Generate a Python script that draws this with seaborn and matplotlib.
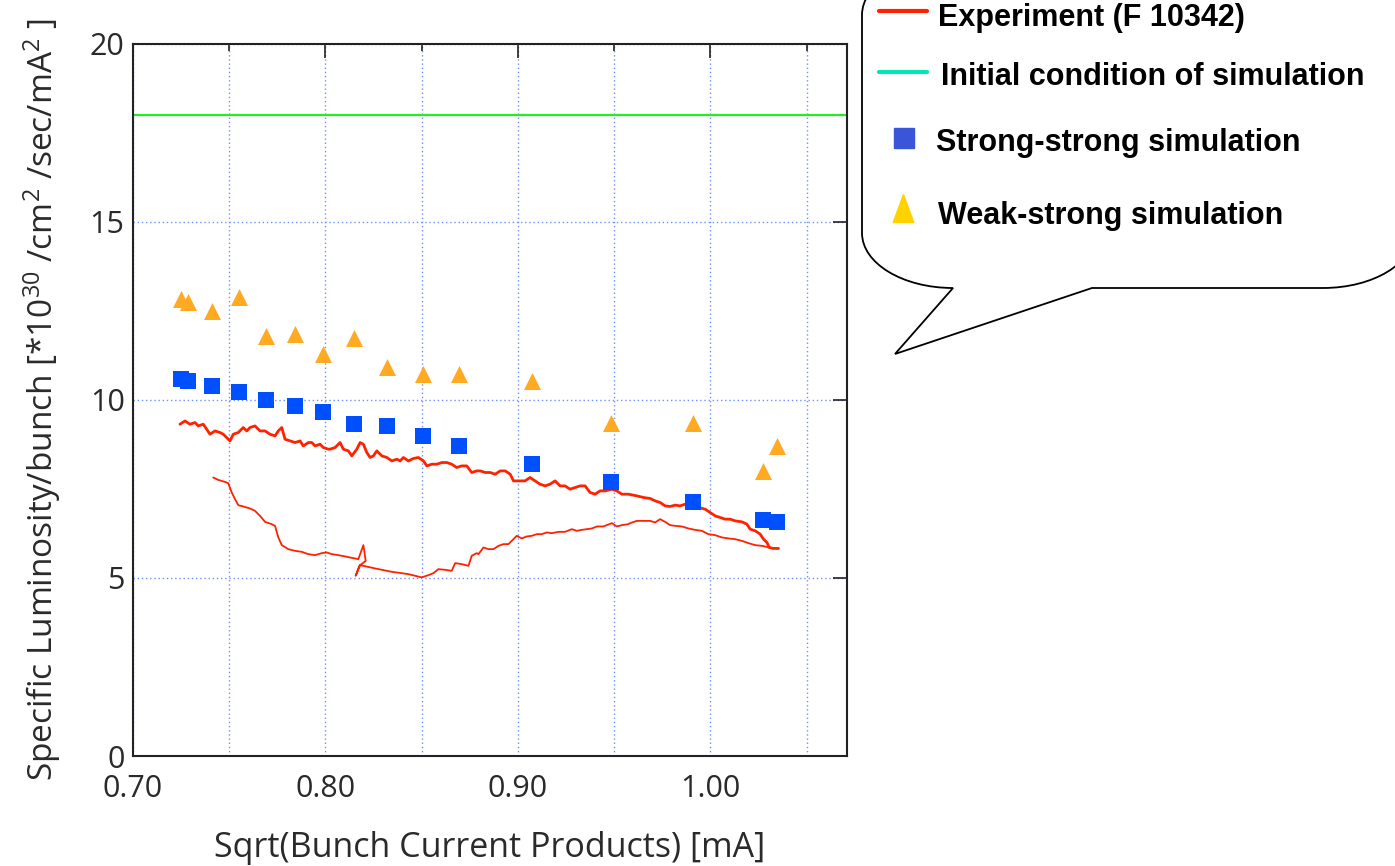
import matplotlib
matplotlib.use("Agg")
import matplotlib.pyplot as plt
from matplotlib.path import Path
from matplotlib.patches import PathPatch
from matplotlib.lines import Line2D
from matplotlib.ticker import MultipleLocator, FixedLocator
import pandas as pd
import seaborn as sns

# ---- data -------------------------------------------------------------
sqrt_current = [0.7248, 0.7287, 0.7409, 0.7549, 0.7691, 0.7840, 0.7989, 0.8150,
                0.8319, 0.8507, 0.8694, 0.9072, 0.9483, 0.9912, 1.0271, 1.0346]
strong_strong = [10.58, 10.53, 10.39, 10.23, 9.98, 9.83, 9.67, 9.31,
                 9.27, 8.97, 8.70, 8.21, 7.70, 7.13, 6.63, 6.58]
weak_strong = [12.84, 12.75, 12.49, 12.89, 11.79, 11.84, 11.28, 11.73,
               10.92, 10.72, 10.72, 10.53, 9.35, 9.35, 7.99, 8.69]
initial_condition = 18.0

# experiment F 10342, upper branch
exp_upper_x = [0.7244, 0.7270, 0.7296, 0.7322, 0.7339, 0.7365, 0.7383, 0.7400, 0.7426, 0.7452,
               0.7469, 0.7504, 0.7521, 0.7547, 0.7573, 0.7591, 0.7608, 0.7634, 0.7660, 0.7686,
               0.7712, 0.7738, 0.7755, 0.7773, 0.7790, 0.7816, 0.7842, 0.7868, 0.7885, 0.7911,
               0.7929, 0.7946, 0.7972, 0.7989, 0.8015, 0.8024, 0.8050, 0.8076, 0.8093, 0.8119,
               0.8137, 0.8163, 0.8180, 0.8197, 0.8215, 0.8232, 0.8249, 0.8267, 0.8293, 0.8319,
               0.8345, 0.8371, 0.8388, 0.8405, 0.8431, 0.8457, 0.8483, 0.8509, 0.8527, 0.8553,
               0.8579, 0.8605, 0.8631, 0.8656, 0.8682, 0.8708, 0.8734, 0.8760, 0.8786, 0.8804,
               0.8830, 0.8856, 0.8882, 0.8908, 0.8934, 0.8960, 0.8977, 0.9003, 0.9037, 0.9063,
               0.9089, 0.9115, 0.9141, 0.9167, 0.9193, 0.9219, 0.9245, 0.9271, 0.9297, 0.9323,
               0.9349, 0.9375, 0.9401, 0.9427, 0.9453, 0.9488, 0.9514, 0.9540, 0.9574, 0.9618,
               0.9652, 0.9687, 0.9713, 0.9739, 0.9765, 0.9791, 0.9817, 0.9843, 0.9869, 0.9904,
               0.9938, 0.9973, 0.9999, 1.0025, 1.0051, 1.0077, 1.0103, 1.0129, 1.0164, 1.0190,
               1.0207, 1.0233, 1.0259, 1.0276, 1.0294, 1.0306, 1.0328, 1.0354]
exp_upper_y = [9.313, 9.405, 9.313, 9.360, 9.265, 9.313, 9.172, 9.032, 9.125, 9.080,
               9.032, 8.844, 9.032, 9.080, 9.220, 9.125, 9.220, 9.265, 9.125, 9.125,
               9.032, 8.985, 9.125, 9.220, 8.892, 8.844, 8.799, 8.844, 8.704, 8.799,
               8.799, 8.704, 8.752, 8.659, 8.612, 8.612, 8.659, 8.799, 8.612, 8.564,
               8.424, 8.612, 8.799, 8.752, 8.519, 8.379, 8.424, 8.564, 8.424, 8.379,
               8.283, 8.331, 8.283, 8.379, 8.283, 8.351, 8.379, 8.283, 8.143, 8.191,
               8.191, 8.238, 8.238, 8.191, 8.098, 8.143, 8.143, 7.958, 8.003, 8.003,
               7.958, 7.958, 7.910, 8.003, 8.003, 7.910, 7.722, 7.722, 7.722, 7.818,
               7.722, 7.630, 7.582, 7.630, 7.722, 7.582, 7.582, 7.489, 7.537, 7.582,
               7.582, 7.397, 7.349, 7.442, 7.442, 7.489, 7.442, 7.349, 7.349, 7.302,
               7.257, 7.229, 7.161, 7.116, 7.021, 7.004, 7.041, 7.021, 7.069, 7.021,
               6.976, 6.928, 6.836, 6.741, 6.696, 6.648, 6.648, 6.600, 6.572, 6.508,
               6.367, 6.320, 6.227, 6.087, 5.994, 5.854, 5.826, 5.826]

# experiment F 10342, lower branch
exp_lower_x = [0.7417, 0.7443, 0.7478, 0.7495, 0.7513, 0.7530, 0.7547, 0.7573, 0.7608, 0.7634,
               0.7660, 0.7686, 0.7721, 0.7738, 0.7755, 0.7773, 0.7807, 0.7842, 0.7877, 0.7911,
               0.7946, 0.7981, 0.8007, 0.8033, 0.8067, 0.8102, 0.8137, 0.8171, 0.8197, 0.8209,
               0.8176, 0.8157, 0.8180, 0.8258, 0.8345, 0.8431, 0.8500, 0.8535, 0.8561, 0.8587,
               0.8622, 0.8656, 0.8674, 0.8708, 0.8743, 0.8760, 0.8786, 0.8795, 0.8821, 0.8847,
               0.8873, 0.8899, 0.8925, 0.8951, 0.8968, 0.8994, 0.9020, 0.9046, 0.9072, 0.9098,
               0.9124, 0.9150, 0.9176, 0.9211, 0.9245, 0.9280, 0.9306, 0.9332, 0.9358, 0.9384,
               0.9410, 0.9444, 0.9488, 0.9514, 0.9540, 0.9574, 0.9583, 0.9618, 0.9652, 0.9687,
               0.9713, 0.9739, 0.9765, 0.9791, 0.9817, 0.9852, 0.9886, 0.9921, 0.9956, 0.9990,
               1.0025, 1.0060, 1.0094, 1.0129, 1.0164, 1.0198, 1.0233, 1.0268, 1.0306]
exp_lower_y = [7.818, 7.750, 7.694, 7.658, 7.397, 7.209, 7.041, 7.004, 6.948, 6.881,
               6.741, 6.572, 6.508, 6.460, 6.135, 5.919, 5.806, 5.759, 5.731, 5.666,
               5.638, 5.694, 5.714, 5.666, 5.638, 5.602, 5.562, 5.526, 5.919, 5.478,
               5.338, 5.058, 5.358, 5.265, 5.170, 5.105, 5.013, 5.077, 5.133, 5.245,
               5.226, 5.198, 5.414, 5.386, 5.338, 5.619, 5.694, 5.666, 5.854, 5.806,
               5.806, 5.899, 5.947, 5.947, 6.039, 6.180, 6.107, 6.163, 6.180, 6.227,
               6.227, 6.275, 6.255, 6.292, 6.292, 6.367, 6.320, 6.348, 6.367, 6.387,
               6.443, 6.443, 6.536, 6.443, 6.480, 6.508, 6.536, 6.600, 6.600, 6.600,
               6.555, 6.648, 6.572, 6.480, 6.460, 6.443, 6.387, 6.348, 6.320, 6.227,
               6.199, 6.135, 6.107, 6.087, 6.039, 5.975, 5.919, 5.899, 5.854]

x_major_ticks = [0.70, 0.80, 0.90, 1.00]
x_tick_labels = ["0.70", "0.80", "0.90", "1.00"]
y_ticks = [0, 5, 10, 15, 20]
legend_labels = ["Experiment (F 10342)", "Initial condition of simulation",
                 "Strong-strong simulation", "Weak-strong simulation"]

# ---- style ------------------------------------------------------------
sns.set_theme(style="white")
plt.rcParams["font.family"] = ["Open Sans", "DejaVu Sans"]
plt.rcParams["mathtext.fontset"] = "custom"
plt.rcParams["mathtext.rm"] = "Open Sans"
plt.rcParams["mathtext.it"] = "Open Sans"

W, H = 1395, 866
fig = plt.figure(figsize=(W / 100, H / 100), dpi=100)
fig.patch.set_facecolor("white")
ax = fig.add_axes([133 / W, 1 - 756 / H, (847 - 133) / W, (756 - 43.5) / H])
ax.set_facecolor("white")

RED = "#ff2200"
BLUE = "#0050ff"
ORANGE = "#ffaa22"
GREEN = "#22ee22"

upper = pd.DataFrame({"x": exp_upper_x, "y": exp_upper_y})
lower = pd.DataFrame({"x": exp_lower_x, "y": exp_lower_y})
sims = pd.DataFrame({"x": sqrt_current, "ss": strong_strong, "ws": weak_strong})

ax.axhline(initial_condition, color=GREEN, lw=1.6, zorder=2)
sns.lineplot(data=upper, x="x", y="y", sort=False, estimator=None, color=RED,
             lw=2.0, ax=ax, zorder=3)
sns.lineplot(data=lower, x="x", y="y", sort=False, estimator=None, color=RED,
             lw=1.3, ax=ax, zorder=3)
sns.scatterplot(data=sims, x="x", y="ss", marker="s", s=130, color=BLUE,
                linewidth=0, ax=ax, zorder=4)
sns.scatterplot(data=sims, x="x", y="ws", marker="^", s=150, color=ORANGE,
                linewidth=0, ax=ax, zorder=4)

ax.set_xlim(0.70, 1.071)
ax.set_ylim(0, 20)
ax.xaxis.set_major_locator(FixedLocator(x_major_ticks))
ax.set_xticklabels(x_tick_labels)
ax.xaxis.set_minor_locator(MultipleLocator(0.05))
ax.set_yticks(y_ticks)
ax.set_yticklabels([str(v) for v in y_ticks])

ax.grid(True, which="both", axis="x", color="#6f8fff", lw=1.0, linestyle=(0, (1, 2)))
ax.grid(True, which="major", axis="y", color="#6f8fff", lw=1.0, linestyle=(0, (1, 2)))
ax.set_axisbelow(True)

for s in ax.spines.values():
    s.set_color("#222222")
    s.set_linewidth(1.5)
ax.tick_params(which="major", direction="in", length=10, width=1.2, color="#222222",
               top=True, right=True, labelsize=22, labelcolor="#2a2a2a", pad=6)
ax.tick_params(which="minor", direction="in", length=5, width=1.2, color="#222222",
               top=True, right=True)
ax.tick_params(axis="x", which="major", pad=13)

ax.set_xlabel("Sqrt(Bunch Current Products) [mA]", fontsize=24.5, color="#2a2a2a")
ax.set_ylabel("Specific Luminosity/bunch [*10$^{30}$ /cm$^{2}$ /sec/mA$^{2}$ ]",
              fontsize=24, color="#2a2a2a")
ax.xaxis.set_label_coords(0.5, -0.105)
ax.yaxis.set_label_coords(-0.098, 0.5)


# ---- speech-bubble legend ---------------------------------------------
def fx(px):
    return px / W


def fy(py):
    return 1 - py / H


k = 0.552
L, R, T, B = 862, 1414, -40, 288
rx, ry = 91, 55
verts = [
    (L + rx, T),
    (L + rx - k * rx, T), (L, T + ry - k * ry), (L, T + ry),
    (L, B - ry),
    (L, B - ry + k * ry), (L + rx - k * rx, B), (L + rx, B),
    (895, 354), (1092, B),
    (R - rx, B),
    (R - rx + k * rx, B), (R, B - ry + k * ry), (R, B - ry),
    (R, T), (L + rx, T),
]
codes = [Path.MOVETO,
         Path.CURVE4, Path.CURVE4, Path.CURVE4,
         Path.LINETO,
         Path.CURVE4, Path.CURVE4, Path.CURVE4,
         Path.LINETO, Path.LINETO,
         Path.LINETO,
         Path.CURVE4, Path.CURVE4, Path.CURVE4,
         Path.LINETO, Path.CLOSEPOLY]
bubble = PathPatch(Path([(fx(a), fy(b)) for a, b in verts], codes),
                   transform=fig.transFigure, facecolor="white", edgecolor="black",
                   lw=1.3, clip_on=False, zorder=0)
fig.patches.append(bubble)

tri_marker = Path([(-0.74, -1), (0.74, -1), (0, 1), (-0.74, -1)],
                  [Path.MOVETO, Path.LINETO, Path.LINETO, Path.CLOSEPOLY])
handles = [
    Line2D([fx(879), fx(927)], [fy(10.7), fy(10.7)], color="#ff2200", lw=3),
    Line2D([fx(879), fx(927)], [fy(71.7), fy(71.7)], color="#00e5b4", lw=3),
    Line2D([fx(903.5)], [fy(138)], marker="s", markersize=15, color="#3a55d8", lw=0),
    Line2D([fx(903)], [fy(207.5)], marker=tri_marker, markersize=20, color="#ffd200", lw=0),
]
for h in handles:
    h.set_transform(fig.transFigure)
    h.set_zorder(2)
    fig.lines.append(h)

text_pos = [(938, 26), (940.7, 85), (936, 150.7), (937.7, 224)]
for lab, (px, py) in zip(legend_labels, text_pos):
    fig.text(fx(px), fy(py), lab, family=["Liberation Sans", "DejaVu Sans"],
             fontweight="bold", fontsize=22, color="black", ha="left", va="baseline",
             zorder=3)

fig.savefig("out.png", dpi=100, facecolor="white")
